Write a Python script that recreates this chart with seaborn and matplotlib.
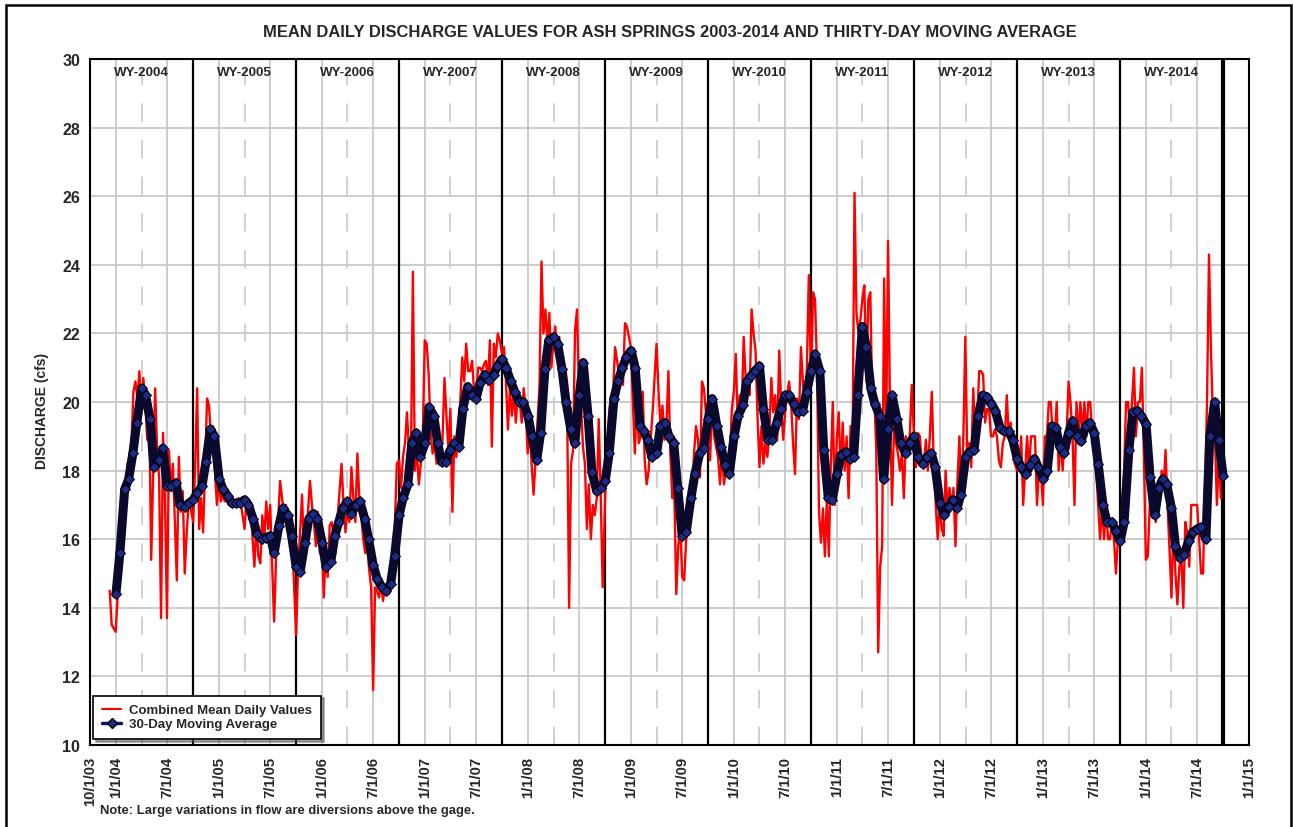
import pandas as pd
import seaborn as sns
import matplotlib
matplotlib.use('Agg')
import matplotlib.pyplot as plt
from matplotlib.lines import Line2D
from matplotlib.patches import Rectangle
from matplotlib.ticker import FixedLocator

sns.set_style('white')
plt.rcParams['font.family'] = ['Liberation Sans', 'DejaVu Sans']

# weekly samples of the combined mean daily values, one list per water year
red_2004 = [14.5, 13.5, 13.4, 13.3, 14.3, 16.5, 17.3, 17.6, 17.4, 18.2, 18.4, 18.8, 20.3, 20.6,
            20.1, 20.9, 19.8, 20.7, 20.0, 18.9, 19.8, 15.4, 17.9, 20.4, 18.6, 17.8, 13.7, 19.1,
            17.1, 13.7, 18.6, 17.4, 18.2, 16.5, 14.8, 18.4, 16.8, 17.4, 15.0, 16.2, 17.1, 16.9]
red_2005 = [16.5, 18.2, 20.4, 16.3, 17.2, 16.2, 18.0, 20.1, 19.9, 19.0, 19.3, 18.0, 17.0, 17.7,
            17.1, 17.3, 17.1, 17.2, 17.0, 17.2, 17.1, 17.1, 17.0, 17.2, 17.1, 16.7, 16.3, 17.1,
            16.8, 17.0, 16.1, 15.2, 16.5, 15.5, 15.3, 16.7, 16.0, 17.1, 16.3, 17.0, 15.2, 13.6,
            15.5, 16.5, 17.7, 17.2, 16.7, 17.0, 16.4, 16.7, 16.0, 14.8]
red_2006 = [13.2, 15.2, 16.2, 17.3, 15.5, 15.6, 16.8, 17.7, 17.0, 16.5, 15.8, 16.8, 15.6, 16.1,
            14.3, 15.6, 14.9, 16.4, 16.5, 16.1, 15.6, 16.6, 17.4, 18.2, 17.0, 16.2, 16.9, 16.5,
            18.1, 17.2, 16.5, 18.5, 17.2, 16.7, 16.0, 15.6, 15.8, 15.1, 14.6, 11.6, 14.6, 14.5,
            14.3, 14.7, 14.2, 14.6, 14.5, 14.4, 15.3, 14.6, 16.4, 18.2]
red_2007 = [18.3, 17.5, 18.4, 18.8, 19.7, 18.6, 18.2, 23.8, 18.0, 18.6, 17.6, 18.2, 19.0, 21.8,
            21.7, 20.8, 19.1, 18.5, 18.8, 18.2, 18.3, 18.4, 18.9, 20.7, 19.6, 18.6, 19.8, 16.8,
            19.0, 18.4, 19.1, 20.0, 21.3, 20.6, 21.7, 20.9, 20.9, 21.2, 20.3, 20.0, 21.0, 21.0,
            20.9, 21.1, 21.2, 20.5, 21.8, 18.7, 21.7, 21.3, 22.0, 21.8]
red_2008 = [21.4, 21.6, 20.6, 19.2, 20.4, 19.6, 20.3, 19.4, 20.2, 20.0, 19.4, 20.4, 19.8, 18.5,
            19.2, 18.2, 17.3, 18.3, 19.4, 20.5, 24.1, 22.0, 22.7, 21.7, 22.6, 21.0, 21.7, 22.2,
            21.3, 21.9, 21.4, 20.6, 20.5, 19.8, 14.0, 18.2, 18.6, 22.1, 22.7, 20.3, 20.0, 18.7,
            18.2, 16.3, 17.6, 16.0, 17.0, 16.7, 17.2, 19.5, 17.3, 14.6]
red_2009 = [17.3, 18.4, 19.7, 20.2, 20.3, 21.6, 21.2, 20.8, 20.8, 20.5, 22.3, 22.2, 21.9, 21.6,
            20.0, 18.5, 20.1, 18.8, 19.0, 20.3, 18.3, 17.6, 18.0, 18.9, 19.7, 20.7, 21.7, 20.3,
            19.3, 19.9, 18.9, 19.3, 20.9, 18.5, 17.2, 17.4, 14.4, 15.8, 16.4, 14.9, 14.8, 16.0,
            16.5, 17.3, 17.3, 18.5, 19.3, 18.9, 17.8, 20.6, 20.4, 19.7]
red_2010 = [20.0, 18.3, 20.1, 19.0, 18.7, 18.4, 17.6, 18.7, 17.6, 18.0, 18.1, 18.3, 19.8, 20.3,
            21.4, 19.3, 20.2, 19.7, 21.9, 20.7, 20.6, 20.2, 22.7, 22.0, 21.5, 19.6, 18.1, 19.3,
            18.2, 18.8, 18.4, 19.1, 20.7, 19.7, 20.2, 18.9, 21.5, 19.9, 18.9, 19.7, 20.2, 20.6,
            20.0, 18.8, 17.9, 20.1, 19.5, 21.6, 20.6, 19.9, 21.0, 23.7]
red_2011 = [20.5, 23.2, 23.0, 21.0, 16.8, 15.9, 16.9, 15.5, 17.2, 15.5, 18.2, 20.0, 17.0, 18.9,
            19.7, 17.9, 19.4, 18.0, 19.0, 17.2, 19.3, 18.6, 26.1, 22.6, 22.0, 22.4, 23.0, 23.4,
            20.6, 23.0, 23.2, 20.0, 20.2, 18.7, 12.7, 15.2, 15.8, 23.6, 18.9, 24.7, 19.7, 17.0,
            19.3, 18.8, 18.5, 18.0, 18.5, 17.2, 19.0, 18.6, 19.0, 20.5]
red_2012 = [19.0, 18.1, 19.1, 19.0, 18.1, 18.2, 18.9, 18.0, 19.0, 20.3, 18.2, 17.0, 16.0, 17.2,
            16.3, 16.1, 18.0, 16.8, 17.5, 16.9, 17.5, 15.8, 17.7, 19.0, 17.0, 19.0, 21.9, 18.3,
            18.8, 18.1, 20.4, 19.0, 19.4, 20.9, 20.9, 20.8, 19.4, 19.8, 19.8, 19.0, 19.0, 19.2,
            19.0, 18.3, 18.1, 18.8, 19.0, 20.2, 19.0, 19.4, 18.6, 18.2]
red_2013 = [18.0, 18.0, 19.0, 17.0, 18.0, 19.0, 18.0, 19.0, 19.0, 19.0, 17.0, 18.0, 18.0, 17.0,
            19.0, 19.0, 20.0, 20.0, 19.0, 19.0, 20.0, 18.0, 19.0, 18.0, 19.0, 19.0, 20.6, 20.0,
            19.0, 17.0, 20.0, 19.0, 20.0, 19.0, 20.0, 19.0, 20.0, 20.0, 19.0, 19.0, 18.0, 17.0,
            16.0, 17.0, 16.0, 17.0, 16.0, 16.0, 16.5, 16.0, 15.0, 16.0]
red_2014 = [16.0, 17.0, 18.0, 20.0, 20.0, 19.0, 20.0, 21.0, 19.0, 20.0, 20.0, 21.0, 18.5, 15.4,
            15.5, 17.0, 18.3, 17.3, 16.5, 17.5, 17.0, 18.0, 17.5, 18.6, 17.0, 15.7, 14.3, 16.5,
            15.0, 14.1, 15.2, 15.5, 14.0, 16.5, 16.2, 15.2, 17.0, 17.0, 17.0, 17.0, 16.0, 15.0,
            15.0, 17.5, 20.0, 24.3, 21.5, 19.5, 19.0, 17.0, 18.5, 17.2]

# 30-day moving average, read on the 1st and 15th of each month
ma_2004 = [14.4, 15.6, 17.45, 17.75, 18.5, 19.4, 20.4, 20.2, 19.5, 18.1, 18.3, 18.65,
           17.55, 17.55, 17.65, 17.0, 16.95, 17.05]
ma_2005 = [17.15, 17.35, 17.55, 18.25, 19.2, 19.0, 17.75, 17.45, 17.25, 17.05, 17.05, 17.05,
           17.15, 17.0, 16.6, 16.15, 16.0, 16.05, 16.1, 15.6, 16.4, 16.9, 16.7, 16.1]
ma_2006 = [15.2, 15.05, 15.9, 16.6, 16.75, 16.6, 15.9, 15.2, 15.35, 16.1, 16.5, 16.9,
           17.1, 16.75, 17.0, 17.1, 16.6, 16.0, 15.25, 14.85, 14.6, 14.5, 14.7, 15.5]
ma_2007 = [16.7, 17.2, 17.6, 18.8, 19.1, 18.4, 18.8, 19.85, 19.6, 18.8, 18.25, 18.25,
           18.6, 18.8, 18.7, 19.8, 20.45, 20.2, 20.1, 20.55, 20.8, 20.65, 20.8, 21.05]
ma_2008 = [21.25, 21.0, 20.6, 20.3, 20.0, 20.0, 19.6, 19.0, 18.3, 19.1, 20.95, 21.8,
           21.9, 21.7, 20.95, 20.0, 19.2, 18.8, 20.2, 21.15, 19.6, 17.95, 17.4, 17.5]
ma_2009 = [17.7, 18.5, 20.1, 20.6, 21.0, 21.3, 21.5, 21.0, 19.3, 19.15, 18.9, 18.4,
           18.5, 19.3, 19.4, 19.0, 18.8, 17.5, 16.1, 16.2, 17.2, 17.9, 18.5, 18.65]
ma_2010 = [19.5, 20.1, 19.3, 18.7, 18.15, 17.9, 19.0, 19.6, 19.9, 20.6, 20.75, 20.9,
           21.05, 19.8, 18.9, 18.9, 19.4, 19.8, 20.2, 20.2, 19.95, 19.7, 19.75, 20.3]
ma_2011 = [20.9, 21.4, 20.9, 18.6, 17.2, 17.15, 17.9, 18.45, 18.55, 18.35, 18.4, 20.2,
           22.2, 21.6, 20.4, 19.95, 19.6, 17.75, 19.2, 20.2, 19.5, 18.8, 18.5, 18.8]
ma_2012 = [19.0, 18.4, 18.2, 18.4, 18.5, 18.1, 17.05, 16.7, 16.95, 17.15, 16.9, 17.3,
           18.4, 18.55, 18.6, 19.6, 20.2, 20.15, 19.95, 19.75, 19.25, 19.15, 19.15, 18.9]
ma_2013 = [18.35, 18.1, 17.9, 18.15, 18.35, 18.1, 17.75, 18.0, 19.3, 19.25, 18.7, 18.5,
           19.1, 19.45, 19.0, 18.85, 19.3, 19.4, 19.1, 18.2, 17.0, 16.5, 16.5, 16.25]
ma_2014 = [15.95, 16.5, 18.6, 19.7, 19.75, 19.6, 19.35, 17.8, 16.7, 17.5, 17.75, 17.6,
           16.9, 15.8, 15.45, 15.55, 15.95, 16.2, 16.3, 16.35, 16.0, 19.0, 20.0, 18.9, 17.85]

water_years = list(range(2004, 2015))
tick_dates = ['2003-10-01'] + [f'{y}-{m}-01' for y in range(2004, 2015) for m in ('01', '07')] + ['2015-01-01']

red_lists = [red_2004, red_2005, red_2006, red_2007, red_2008, red_2009,
             red_2010, red_2011, red_2012, red_2013, red_2014]
ma_lists = [ma_2004, ma_2005, ma_2006, ma_2007, ma_2008, ma_2009,
            ma_2010, ma_2011, ma_2012, ma_2013, ma_2014]

daily_parts, ma_parts = [], []
for wy, rv, mv in zip(water_years, red_lists, ma_lists):
    rstart = '2003-12-10' if wy == 2004 else f'{wy - 1}-10-01'
    mstart = '2004-01-01' if wy == 2004 else f'{wy - 1}-10-01'
    daily_parts.append(pd.DataFrame({'date': pd.date_range(rstart, periods=len(rv), freq='7D'), 'cfs': rv}))
    ma_parts.append(pd.DataFrame({'date': pd.date_range(mstart, periods=len(mv), freq='SMS'), 'cfs': mv}))
daily = pd.concat(daily_parts, ignore_index=True)
ma = pd.concat(ma_parts, ignore_index=True)

fig = plt.figure(figsize=(12.93, 8.28), dpi=100)
ax = fig.add_axes([0.0696, 0.099, 0.8964, 0.8285])

sns.lineplot(data=daily, x='date', y='cfs', ax=ax, color='#ff0000', lw=1.7,
             estimator=None, zorder=3)
sns.lineplot(data=ma, x='date', y='cfs', ax=ax, color='#0a0a2e', lw=6.5, estimator=None,
             marker='D', markersize=5.5, markerfacecolor='#1c2a8c', markeredgecolor='black',
             markeredgewidth=0.7, zorder=4)

ax.set_xlim(pd.Timestamp('2003-10-01'), pd.Timestamp('2015-01-01'))
ax.set_ylim(10, 30)
ax.set_yticks(range(10, 31, 2))
ax.set_yticklabels([str(v) for v in range(10, 31, 2)], fontsize=11.5, fontweight='bold')
tick_ts = pd.to_datetime(tick_dates)
ax.set_xticks(tick_ts)
ax.set_xticklabels([f'{d.month}/{d.day}/{d:%y}' for d in tick_ts], rotation=90,
                   fontsize=10.7, fontweight='bold')
minor = pd.to_datetime([f'{y}-{m}-01' for y in range(2004, 2015) for m in ('04', '10')])
ax.xaxis.set_minor_locator(FixedLocator(matplotlib.dates.date2num(minor)))
ax.tick_params(axis='x', which='both', length=0, pad=8)
ax.tick_params(axis='y', length=3, pad=4, color='black')
ax.set_xlabel('')
ax.set_ylabel('')

ax.grid(which='major', color='#c8c8c8', lw=1.3, zorder=0)
ax.grid(which='minor', axis='x', color='#c8c8c8', lw=1.2, ls=(0, (11, 11)), zorder=0)
ax.set_axisbelow(True)

for wy in water_years:
    ax.axvline(pd.Timestamp(f'{wy}-10-01'), color='black', lw=3.0 if wy == 2014 else 1.6, zorder=2)
    mid = pd.Timestamp(f'{wy - 1}-10-01') + (pd.Timestamp(f'{wy}-10-01') - pd.Timestamp(f'{wy - 1}-10-01')) / 2
    ax.text(mid, 0.981, f'WY-{wy}', transform=ax.get_xaxis_transform(), ha='center',
            va='center', fontsize=9.6, fontweight='bold')

for s in ax.spines.values():
    s.set_color('black')
    s.set_linewidth(1.5)

handles = [Line2D([], [], color='#ff0000', lw=1.5),
           Line2D([], [], color='#10106e', lw=2.5, marker='D', markersize=5,
                  markerfacecolor='#1c2a8c', markeredgecolor='black')]
leg = ax.legend(handles, ['Combined Mean Daily Values', '30-Day Moving Average'],
                loc='lower left', bbox_to_anchor=(0.003, 0.009), borderaxespad=0,
                prop={'size': 9.5, 'weight': 'bold'}, fancybox=False, shadow=True,
                framealpha=1, edgecolor='black', labelspacing=0.11, handlelength=1.45,
                handletextpad=0.6, borderpad=0.66)
leg.get_frame().set_linewidth(1.2)
leg.set_zorder(10)

fig.text(0.5178, 0.961, 'MEAN DAILY DISCHARGE VALUES FOR ASH SPRINGS 2003-2014 AND THIRTY-DAY MOVING AVERAGE',
         ha='center', va='center', fontsize=11.9, fontweight='bold')
fig.text(0.0325, 1 - 411 / 828, 'DISCHARGE (cfs)', rotation=90, ha='center', va='center',
         fontsize=10, fontweight='bold')
fig.text(100 / 1293, 1 - 811 / 828, 'Note: Large variations in flow are diversions above the gage.',
         ha='left', va='center', fontsize=9.4, fontweight='bold')

fig.add_artist(Rectangle((6 / 1293, -0.01), 1285 / 1293, 1.0028, transform=fig.transFigure,
                         fill=False, edgecolor='black', lw=1.8))

fig.savefig('out.png', dpi=100)
